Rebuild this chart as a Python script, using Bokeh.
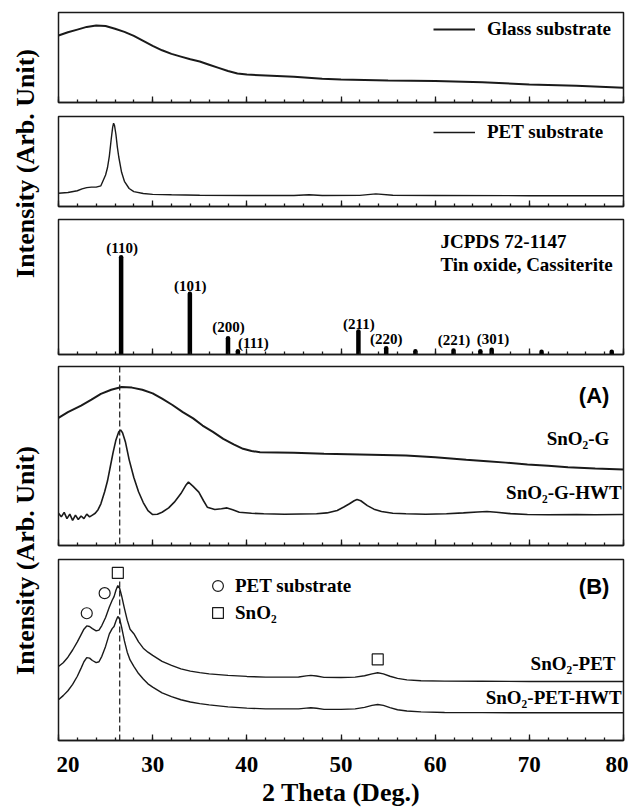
import math
from bokeh.plotting import figure
from bokeh.layouts import column, row
from bokeh.models import (Range1d, SingleIntervalTicker, Label, Span, Legend, LegendItem,
                          CustomLabelingPolicy, CustomJSTickFormatter)
from bokeh.core.properties import value
from bokeh.embed import file_html
from bokeh.resources import INLINE

SERIF = "Liberation Serif"
SANS = "Liberation Sans"
INK = "#1a1a1a"

# ---------------- data ----------------
# Panel 1: glass substrate
glass_x = [20, 21, 22, 23, 24, 25, 26, 27, 28, 29, 30, 31, 32, 33, 34, 35, 36, 37, 38, 39, 40,
           42, 45, 48, 50, 55, 60, 65, 70, 75, 80]
glass_y = [74.4, 78, 81, 84, 85.5, 85, 82, 78.5, 74, 68.5, 63, 58, 54, 51, 48, 45.5, 42, 38.5,
           35, 32.3, 31, 30, 28.5, 26.5, 25.5, 24.4, 24, 22.6, 20, 18.5, 16.3]

# Panel 2: PET substrate
pet_x = [20, 21, 22, 22.5, 23, 23.5, 24, 24.5, 25.0, 25.2, 25.4, 25.6, 25.75, 25.85, 25.95, 26.1,
         26.25, 26.4, 26.7, 27.0, 27.5, 28, 29, 30, 32, 35, 40, 45, 46.6, 48, 52, 53.7, 55.5, 60,
         70, 80]
pet_y = [14.8, 15.5, 17.5, 19.5, 21, 21.5, 21.5, 23, 35, 43, 56, 75, 88, 92.5, 90, 80,
         66, 55, 38, 28, 20, 16.5, 14.5, 13.5, 13, 12.5, 12.2, 12.3, 13, 12.3, 12.4, 14, 12.5, 12.2,
         12, 12]

# Panel 3: JCPDS 72-1147 sticks
hkl_x = [26.65, 33.95, 38.0, 39.05, 51.85, 54.8, 57.9, 61.95, 64.8, 66.0, 71.3, 78.75]
hkl_h = [72, 45, 12, 2.5, 17, 4.7, 2.5, 3, 2.5, 3.5, 2, 2]
hkl_text = ["(110)", "(101)", "(200)", "(111)", "(211)", "(220)", "(221)", "(301)"]
hkl_label_x = [26.76, 34.0, 38.05, 40.7, 51.9, 54.8, 62.0, 66.15]
hkl_label_y = [79, 51.1, 20.2, 8.4, 22.7, 11.6, 10.9, 11.6]

# Panel 4 (A)
sg_x = [20, 21, 22.4, 23.5, 24.5, 25.6, 26.7, 27.8, 28.9, 30, 31, 32.1, 33.2, 34.3, 35.3, 36.4,
        37.5, 38.6, 39.6, 40.5, 41.4, 45, 48.2, 52, 56.9, 60, 63.3, 65.5, 67.5, 69.8, 72, 74.1, 77, 80]
sg_y = [71.3, 74.5, 78.2, 81.5, 84.7, 87, 88.5, 88.2, 87, 85, 82, 78.5, 74.5, 71, 67, 63.5,
        59.6, 56.5, 54, 52.8, 52.1, 51.8, 51.2, 50.8, 50.3, 49.3, 47.9, 47.1, 46.3, 45.3, 44.6, 43.7, 43, 42.5]

hwt_x = [20, 20.3, 20.6, 20.9, 21.2, 21.5, 21.8, 22.1, 22.4, 22.7, 23.0, 23.3, 23.6, 23.9, 24.2,
         24.5, 24.9, 25.2, 25.5, 25.8, 26.1, 26.4, 26.6, 26.8, 27.1, 27.5, 28.0, 28.5, 29.0, 29.5,
         30.0, 30.5, 31.0, 31.7, 32.3, 33.0, 33.5, 33.8, 34.3, 34.9, 35.4, 35.8, 36.6, 37.3, 37.9,
         38.5, 39.2, 40.5, 41.8, 44, 47.4, 48.5, 49.6, 50.3, 50.9, 51.4, 51.7, 52.1, 52.8, 53.5,
         54.3, 55.5, 56.9, 59, 61.2, 63, 64.5, 65.5, 66.5, 68, 69.8, 72, 75, 77, 80]
hwt_y = [18, 16, 18.5, 15, 17.5, 14, 17, 14.5, 16.5, 15, 17.5, 16, 17, 18, 20,
         23.3, 30, 36, 44, 52, 59, 63.5, 64.5, 63, 58, 48, 38, 30, 24, 19.5,
         17.3, 17.5, 18.6, 21, 24.2, 29, 33.5, 35.4, 33, 29.8, 25, 21.4, 20.1, 20.5, 21,
         20, 18.6, 18, 17.7, 17.5, 17.7, 18.2, 19.6, 21.5, 23.3, 25, 25.7, 25, 22.3, 20.3,
         19, 18, 17.7, 17.5, 17.7, 18.2, 18.7, 19, 18.6, 17.8, 17.3, 17.2, 17.3, 17.2, 17.3]

# Panel 5 (B)
sp_x = [20, 20.5, 21.0, 21.5, 22.0, 22.4, 22.7, 23.0, 23.3, 23.6, 24.0, 24.3, 24.6, 25.0, 25.4,
        25.7, 25.9, 26.1, 26.3, 26.5, 26.7, 27.0, 27.3, 27.6, 28.0, 28.5, 29.0, 29.5, 30.0, 31,
        32, 33, 34, 35, 36, 38, 40, 42, 44, 45.5, 46.3, 46.8, 47.4, 48.2, 50, 51.5, 52.5, 53.3,
        53.9, 54.5, 55.2, 56, 57, 58.5, 61, 65, 70, 80]
sp_y = [40.9, 43, 46, 50, 54.5, 58.5, 61.5, 63.3, 63.0, 61.8, 60.6, 61.0, 63.5, 68, 73.7,
        77.5, 79.5, 83, 85.6, 84, 80, 73, 66.5, 61.5, 59, 54.5, 51, 48.8, 47, 43.7,
        41.5, 39.6, 38.3, 37.5, 36.8, 36, 35.4, 35, 35, 35.1, 35.7, 36, 35.6, 34.9, 34.8, 35, 35.8, 36.8,
        37.4, 36.8, 35.5, 34.3, 33.5, 33, 32.8, 32.7, 32.6, 32.6]
sph_y = [22.5, 24.8, 27.5, 31, 35.5, 40, 43.5, 45.8, 45.5, 44.2, 43, 43.5, 46.5, 52, 58.9,
         61.8, 63, 66, 68.5, 67, 62.6, 55, 48.8, 44.5, 41, 37, 34, 31.3, 29.5, 26.3,
         24.2, 22.5, 21.3, 20.4, 19.7, 18.6, 17.9, 17.5, 17.5, 17.5, 17.9, 18.1, 17.8, 17.2, 17.2, 17.5, 18.3, 19.4,
         19.9, 19.4, 18.2, 17, 16.3, 15.8, 15.5, 15.4, 15.3, 15.3]

pet_mark_x = [23.0, 24.9]
pet_mark_y = [70.3, 81.4]
sno2_mark_x = [26.3, 53.9]
sno2_mark_y = [92.6, 44.8]
dash_x = 26.5

# ---------------- helpers ----------------
def panel(frame_h, top, bottom, show_labels=False):
    p = figure(frame_width=565, frame_height=frame_h,
               x_range=Range1d(20, 80), y_range=Range1d(0, 100),
               y_axis_type=None, output_backend="svg", toolbar_location=None,
               min_border_left=2, min_border_right=5,
               min_border_top=top, min_border_bottom=bottom)
    p.grid.visible = False
    p.outline_line_color = INK
    p.outline_line_width = 1.5
    ax = p.xaxis[0]
    ax.ticker = SingleIntervalTicker(interval=10, num_minor_ticks=5)
    ax.major_tick_in = 6
    ax.major_tick_out = 0
    ax.minor_tick_in = 3
    ax.minor_tick_out = 0
    ax.axis_line_color = INK
    ax.axis_line_width = 1.5
    ax.major_tick_line_color = INK
    ax.major_tick_line_width = 1.3
    ax.minor_tick_line_color = INK
    ax.minor_tick_line_width = 1.3
    if show_labels:
        ax.major_label_text_font = SERIF
        ax.major_label_text_font_style = "bold"
        ax.major_label_text_font_size = "23px"
        ax.major_label_text_color = "black"
        ax.major_label_standoff = 16
        ax.axis_label = "2 Theta (Deg.)"
        ax.axis_label_text_font = SERIF
        ax.axis_label_text_font_style = "bold"
        ax.axis_label_text_font_size = "26px"
        ax.axis_label_text_color = "black"
        ax.axis_label_standoff = 3
    else:
        ax.formatter = CustomJSTickFormatter(code="return ''")
        ax.major_label_policy = CustomLabelingPolicy(
            code="for (const i of indices) { indices.unset(i) }; return indices")
        ax.major_label_text_font_size = "1px"
        ax.major_label_standoff = 0
    return p


def txt(p, x, y, text, align="left", size="19px", font=SERIF):
    p.add_layout(Label(x=x, y=y, text=text, text_align=align, text_baseline="middle",
                       text_font=font, text_font_style="bold", text_font_size=size,
                       text_color="black"))


def line_legend(p, r, label, y):
    lg = Legend(items=[LegendItem(label=label, renderers=[r])], location=(375, y),
                glyph_width=42, glyph_height=20, label_height=20, label_standoff=12,
                padding=0, margin=0, spacing=0, border_line_color=None,
                background_fill_alpha=0, label_text_font=SERIF,
                label_text_font_style="bold", label_text_font_size="19px",
                label_text_color="black")
    p.add_layout(lg)

# ---------------- panel 1 ----------------
p1 = panel(90, 12, 7)
r1 = p1.line(glass_x, glass_y, line_color=INK, line_width=2)
line_legend(p1, r1, "Glass substrate", 62)

# ---------------- panel 2 ----------------
p2 = panel(90, 7, 6)
r2 = p2.line(pet_x, pet_y, line_color=INK, line_width=1.4)
line_legend(p2, r2, "PET substrate", 63)

# ---------------- panel 3 ----------------
p3 = panel(135, 7, 6)
p3.segment(x0=hkl_x, y0=[0] * len(hkl_x), x1=hkl_x, y1=hkl_h, line_color="black",
           line_width=4.5, line_cap="round")
p3.text(x=hkl_label_x, y=hkl_label_y, text=hkl_text, text_align="center",
        text_baseline="middle", text_font=value(SERIF), text_font_style="bold",
        text_font_size="15px", text_color="black")
txt(p3, 60.56, 83.9, "JCPDS 72-1147")
txt(p3, 60.56, 66.7, "Tin oxide, Cassiterite")

# ---------------- panel 4 ----------------
p4 = panel(179, 6, 7)
p4.add_layout(Span(location=dash_x, dimension="height", line_color=INK, line_width=1.2,
                   line_dash="6 3", level="underlay"))
p4.line(sg_x, sg_y, line_color=INK, line_width=2)
p4.line(hwt_x, hwt_y, line_color=INK, line_width=1.6)
txt(p4, 78.5, 83.8, "(A)", align="right", size="22px", font=SANS)
txt(p4, 78.5, 59.6, "SnO\u2082-G", align="right")
txt(p4, 79.8, 29.8, "SnO\u2082-G-HWT", align="right")

# ---------------- panel 5 ----------------
p5 = panel(181, 7, 64, show_labels=True)
p5.segment(x0=[dash_x], y0=[0], x1=[dash_x], y1=[sno2_mark_y[0]], line_color=INK,
           line_width=1.2, line_dash="6 3")
p5.line(sp_x, sp_y, line_color=INK, line_width=1.4)
p5.line(sp_x, sph_y, line_color=INK, line_width=1.4)
rc = p5.scatter(pet_mark_x, pet_mark_y, marker="circle", size=11, fill_color="white",
                line_color=INK, line_width=1.2)
rs = p5.scatter(sno2_mark_x, sno2_mark_y, marker="square", size=11, fill_color="white",
                line_color=INK, line_width=1.2)
lg5 = Legend(items=[LegendItem(label="PET substrate", renderers=[rc]),
                    LegendItem(label="SnO\u2082", renderers=[rs])],
             location=(146, 114), glyph_width=27, glyph_height=27, label_height=20,
             label_standoff=4, padding=0, margin=0, spacing=0, border_line_color=None,
             background_fill_alpha=0, label_text_font=SERIF, label_text_font_style="bold",
             label_text_font_size="19px", label_text_color="black")
p5.add_layout(lg5)
txt(p5, 78.5, 85.2, "(B)", align="right", size="22px", font=SANS)
txt(p5, 79.15, 42.4, "SnO\u2082-PET", align="right")
txt(p5, 79.8, 23.9, "SnO\u2082-PET-HWT", align="right")

# ---------------- y labels ----------------
H = 800
lab = figure(width=56, height=H, x_range=Range1d(0, 56), y_range=Range1d(0, H),
             x_axis_type=None, y_axis_type=None, output_backend="svg",
             toolbar_location=None, min_border=0, outline_line_color=None)
lab.grid.visible = False
for cy in (163, 560):
    lab.add_layout(Label(x=25, y=H - cy, text="Intensity (Arb. Unit)", angle=math.pi / 2,
                         text_align="center", text_baseline="middle", text_font=SERIF,
                         text_font_style="bold", text_font_size="26px", text_color="black"))

layout = row(lab, column(p1, p2, p3, p4, p5))
open("out.html", "w").write(file_html(layout, INLINE))
